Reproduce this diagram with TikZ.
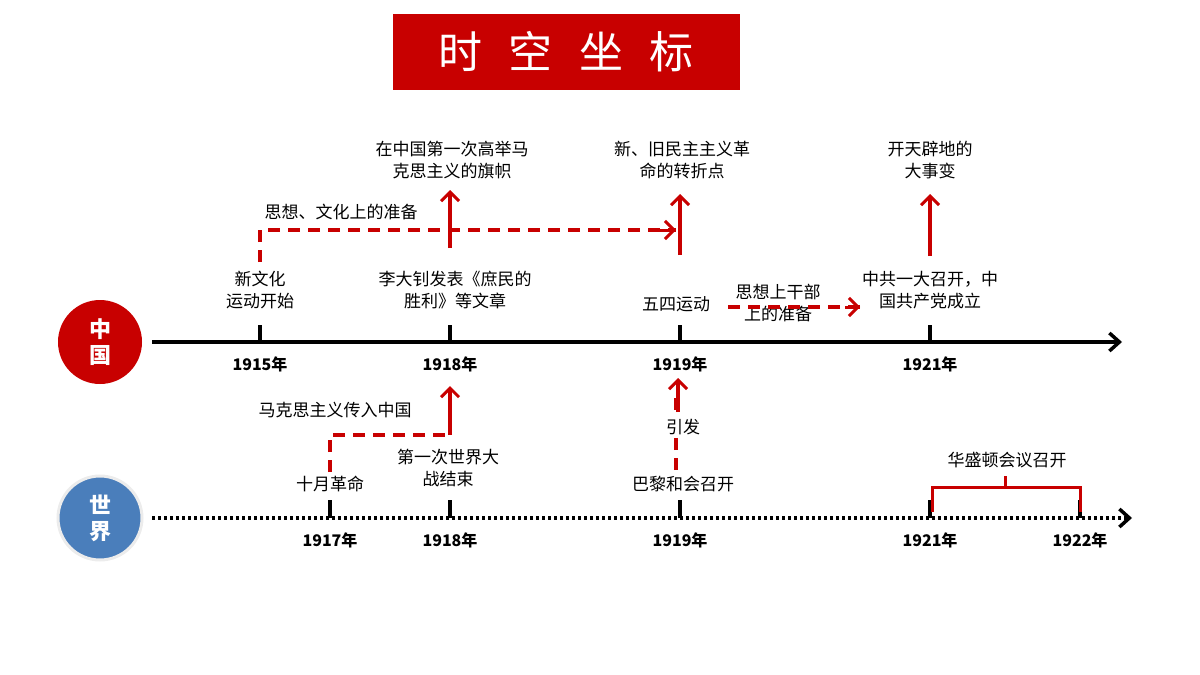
\documentclass[tikz,border=0pt]{standalone}
\usepackage{fontspec}
\setmainfont{Noto Sans CJK SC}
\usetikzlibrary{arrows.meta}
\definecolor{hred}{RGB}{200,0,0}
\definecolor{wblue}{RGB}{74,126,187}
\tikzset{every picture/.style={line width=0.75pt},
  lbl/.style={font=\fontsize{17}{22}\selectfont, align=center, inner sep=1pt},
  yr/.style={font=\fontsize{16}{20}\selectfont\bfseries},
  rdash/.style={hred, line width=3.5pt, dash pattern=on 12pt off 8pt},
  rtip/.style={-{Straight Barb[length=9pt,width=18pt,line width=3pt]}},
  rup/.style={hred, line width=3.5pt, rtip},
  tick/.style={line width=3.5pt}}

\begin{document}
\begin{tikzpicture}[x=1pt,y=-1pt]
\useasboundingbox (0,0) rectangle (1200,675);

%Title
\node (title) [fill=hred, minimum width=347, minimum height=76, text=white, font=\fontsize{44}{50}\selectfont] at (566,52) {时\hspace{0.6em}空\hspace{0.6em}坐\hspace{0.6em}标};

%Circles
\node (cn) [circle, fill=hred, minimum size=84, text=white, align=center, font=\fontsize{22}{26}\selectfont\bfseries] at (100,342) {中\\国};
\node (wd) [circle, fill=wblue, draw=white!85!gray, line width=3pt, minimum size=84, text=white, align=center, font=\fontsize{22}{26}\selectfont\bfseries] at (100,518) {世\\界};

%China axis
\coordinate (ca) at (152,342);
\coordinate (cb) at (1122,342);
\draw [line width=3.5pt, -{Straight Barb[length=10pt,width=18pt]}] (ca) -- (cb);
\foreach \x/\y in {260/1915,450/1918,680/1919,930/1921}{
  \draw [tick] (\x,325) -- (\x,342);
  \node (c\y) [yr] at (\x,364) {\y 年};
}

%World axis
\coordinate (wa) at (152,518);
\coordinate (wb) at (1132,518);
\draw [line width=3.5pt, dash pattern=on 3pt off 3pt, -{Straight Barb[length=10pt,width=18pt]}] (wa) -- (wb);
\foreach \x/\y in {330/1917,450/1918,680/1919,930/1921,1080/1922}{
  \draw [tick] (\x,500) -- (\x,518);
  \node (w\y) [yr] at (\x,540) {\y 年};
}

%China events
\node (xwh) [lbl] at (260,290) {新文化\\运动开始};
\node (ldz) [lbl] at (455,290) {李大钊发表《庶民的\\胜利》等文章};
\node (wsyd) [lbl] at (676,304) {五四运动};
\node (gbzb) [lbl] at (778,303) {思想上干部\\上的准备};
\node (zgyd) [lbl] at (930,290) {中共一大召开，中\\国共产党成立};
\node (mks) [lbl] at (452,160) {在中国第一次高举马\\克思主义的旗帜};
\node (zzd) [lbl] at (682,160) {新、旧民主主义革\\命的转折点};
\node (ktpd) [lbl] at (930,160) {开天辟地的\\大事变};
\node (whzb) [lbl] at (341,212) {思想、文化上的准备};

\coordinate (d1) at (260,262);
\coordinate (d2) at (260,230);
\coordinate (d3) at (676,230);
\draw [rdash] (d1) -- (d2) -- (d3);
\draw [hred, line width=3pt, rtip] (660,230) -- (d3);
\draw [rup] (450,248) -- (450,190);
\draw [rup] (680,255) -- (680,194);
\draw [rup] (930,256) -- (930,194);
\coordinate (g1) at (728,307);
\coordinate (g2) at (860,307);
\draw [rdash] (g1) -- (g2);
\draw [hred, line width=3pt, rtip] (845,307) -- (g2);

%World events
\node (srgm) [lbl] at (330,484) {十月革命};
\node (yz) [lbl] at (448,468) {第一次世界大\\战结束};
\node (blhh) [lbl] at (683,484) {巴黎和会召开};
\node (crzg) [lbl] at (335,410) {马克思主义传入中国};
\node (hsd) [lbl] at (1007,460) {华盛顿会议召开};

\coordinate (m1) at (330,472);
\coordinate (m2) at (330,435);
\coordinate (m3) at (450,435);
\draw [rdash] (m1) -- (m2) -- (m3);
\draw [rup] (m3) -- (450,386);
\draw [rdash] (676,470) -- (676,395);
\draw [rup] (678,412) -- (678,378);
\node (yf) [lbl, fill=white] at (683,427) {引发};

\draw [hred, line width=3pt] (932,512) -- (932,487) -- (1080,487) -- (1080,512);
\draw [hred, line width=3pt] (1005,487) -- (1005,476);
\end{tikzpicture}
\end{document}
